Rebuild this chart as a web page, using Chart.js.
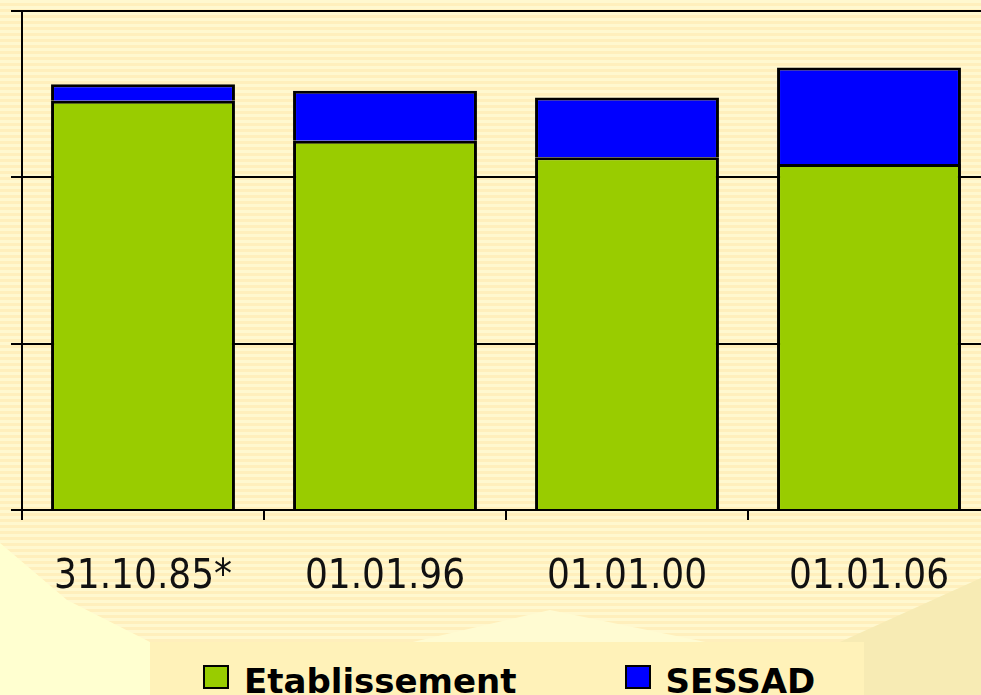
<!DOCTYPE html>
<html>
<head>
<meta charset="utf-8">
<script src="https://cdn.jsdelivr.net/npm/chart.js@4.4.1/dist/chart.umd.min.js"></script>
<style>
    html, body {
        margin: 0;
        padding: 0;
        overflow: hidden;
        width: 981px;
        height: 695px;
    }
    body {
        background: repeating-linear-gradient(to bottom, #fff8cf 0px, #fff8cf 3px, #ffefbc 3px, #ffefbc 6px);
        position: relative;
    }
    .deco {
        position: absolute;
        left: 0;
        top: 0;
        width: 981px;
        height: 695px;
    }
    #paleLeft { background: #ffffd0; clip-path: polygon(0 543px, 67px 600px, 150px 642px, 150px 695px, 0 695px); }
    #paleMid { background: #fffbd2; clip-path: polygon(400px 645px, 550px 610px, 720px 645px); }
    #darkRight { background: #f7ebb4; clip-path: polygon(840px 642px, 981px 578px, 981px 695px, 840px 695px); }
    #wrap {
        position: absolute;
        left: 0;
        top: 0;
        width: 1000px;
        height: 695px;
    }
    #legend {
        position: absolute;
        left: 150px;
        top: 642px;
        width: 714px;
        height: 60px;
        background: #fff2b9;
        display: flex;
        align-items: flex-start;
        padding: 22px 0 0 53px;
        box-sizing: border-box;
        font-family: "DejaVu Sans", sans-serif;
        font-weight: bold;
        font-size: 34px;
        line-height: 34px;
        color: #000;
    }
    #legend .item { display: flex; align-items: flex-start; margin-right: 108px; }
    #legend .sw {
        width: 22px;
        height: 20px;
        border: 2px solid #000;
        margin: 1px 15px 0 0;
    }
</style>
</head>
<body>
<div class="deco" id="paleLeft"></div>
<div class="deco" id="paleMid"></div>
<div class="deco" id="darkRight"></div>
<div id="wrap"><canvas id="myChart"></canvas></div>
<div id="legend"></div>
<script>
// categories / series (units = one gridline step)
const labels = ['31.10.85*', '01.01.96', '01.01.00', '01.01.06'];
const etablissement = [2.46, 2.22, 2.12, 2.08];
const sessad = [0.10, 0.30, 0.36, 0.58];
const yTicks = [0, 1, 2, 3];

const ctx = document.getElementById('myChart').getContext('2d');
const myChart = new Chart(ctx, {
    type: 'bar',
    data: {
        labels: labels,
        datasets: [{
            label: 'Etablissement',
            data: etablissement,
            backgroundColor: '#99cc00',
            borderColor: '#000000',
            borderWidth: 3,
            barPercentage: 0.76,
            categoryPercentage: 1
        }, {
            label: 'SESSAD',
            data: sessad,
            backgroundColor: '#0000ff',
            borderColor: '#000000',
            borderWidth: 3,
            barPercentage: 0.76,
            categoryPercentage: 1
        }]
    },
    options: {
        responsive: true,
        maintainAspectRatio: false,
        animation: false,
        layout: {
            padding: { top: 11, right: 10, left: 0, bottom: 0 }
        },
        scales: {
            x: {
                stacked: true,
                afterFit: s => { s.height = 185; },
                grid: {
                    drawOnChartArea: false,
                    color: '#000',
                    lineWidth: 2,
                    tickLength: 10,
                    tickWidth: 2
                },
                border: { color: '#000', width: 2 },
                ticks: {
                    color: '#111',
                    padding: 34,
                    font: { family: '"DejaVu Sans Condensed", "DejaVu Sans", sans-serif', size: 40 }
                }
            },
            y: {
                stacked: true,
                min: 0,
                max: 3,
                afterFit: s => { s.width = 22; },
                afterBuildTicks: s => { s.ticks = yTicks.map(v => ({ value: v })); },
                grid: {
                    color: '#000',
                    lineWidth: 2,
                    tickLength: 11
                },
                border: { color: '#000', width: 2 },
                ticks: { display: false }
            }
        },
        plugins: {
            tooltip: { enabled: false },
            legend: { display: false }
        }
    }
});

// legend drawn as html from the datasets
const legendEl = document.getElementById('legend');
myChart.data.datasets.forEach(ds => {
    const item = document.createElement('div');
    item.className = 'item';
    const sw = document.createElement('div');
    sw.className = 'sw';
    sw.style.background = ds.backgroundColor;
    const txt = document.createElement('span');
    txt.textContent = ds.label;
    item.appendChild(sw);
    item.appendChild(txt);
    legendEl.appendChild(item);
});
</script>
</body>
</html>
